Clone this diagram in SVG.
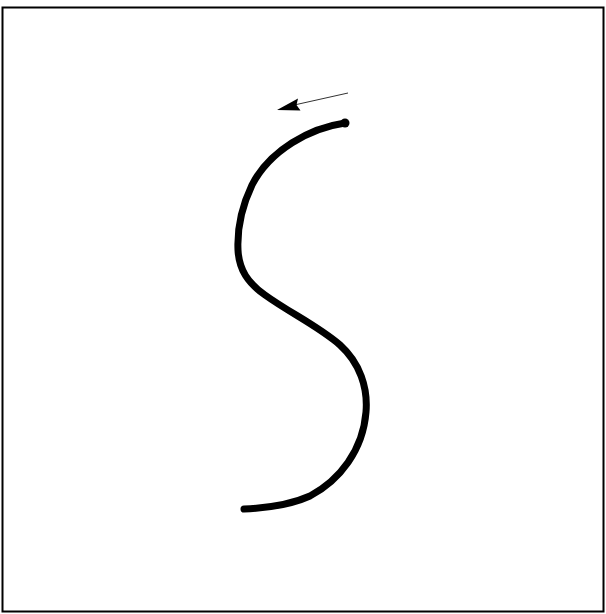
<svg xmlns="http://www.w3.org/2000/svg" width="606" height="614" viewBox="0 0 606 614">
<style>
.frame{fill:none;stroke:#000;stroke-width:2}
.curve{fill:none;stroke:#000;stroke-width:7;stroke-linecap:round;stroke-linejoin:round}
.arrow{fill:none;stroke:#333;stroke-width:1}
</style>
<rect width="606" height="614" fill="#fff"/>
<rect class="frame" x="2.5" y="7.5" width="601" height="604"/>
<g id="curve">
<path class="curve" d="M345,123 C310,128 270,150 252,185 C242,206 237,228 238,250 C239,270 248,283 265,295 C290,313 318,326 340,345 C360,363 368,388 366,412 C363,450 340,480 310,496 C290,505 268,508 244,509"/>
<circle cx="345" cy="123" r="4.5" fill="#000"/>
</g>
<g id="connectors">
<line class="arrow" x1="348" y1="93" x2="292" y2="105.5"/>
<polygon points="277,110 298,98.5 296.5,105 300.5,110.5" fill="#000"/>
</g>
</svg>
